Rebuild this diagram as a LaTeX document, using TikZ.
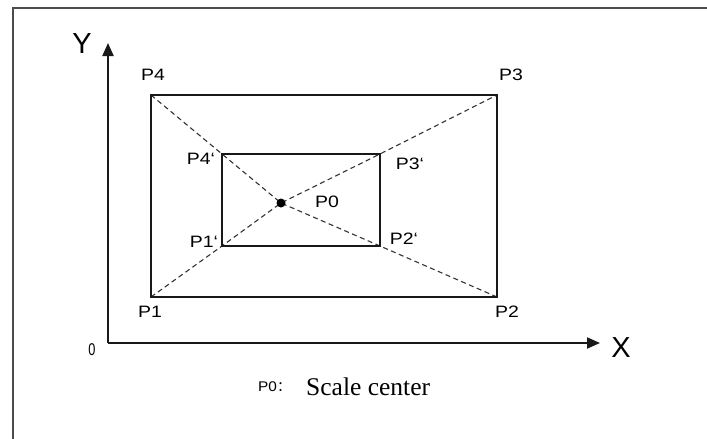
\documentclass[tikz,border=0pt]{standalone}
\usepackage{fontspec}
\setmainfont{Liberation Sans}
\newfontfamily\serifcap{Liberation Serif}
\newfontfamily\cjk{Noto Sans CJK SC}
\usetikzlibrary{arrows.meta}
\newcommand{\gr}{\symbol{96}}
\newcommand{\wide}[1]{\scalebox{1.18}[1]{#1}}
\begin{document}
\begin{tikzpicture}[x=1pt,y=-1pt,
  box/.style={line width=2pt,black!90},
  diag/.style={dash pattern=on 5pt off 3.5pt,line width=1.1pt,black!80},
  axis/.style={line width=2pt,black!90,-{Triangle[length=13pt,width=11pt]}},
  plab/.style={inner sep=0pt,font=\fontsize{16.5}{18}\selectfont},
  axlab/.style={inner sep=0pt,font=\fontsize{29}{31}\selectfont}]
\useasboundingbox (0,0) rectangle (707,439);
% frame
\draw[line width=1.4pt,black!70] (13,439) -- (13,8) -- (707,8);
% points
\coordinate (O) at (108,343);
\coordinate (Ytip) at (108,43);
\coordinate (Xtip) at (600,343);
\coordinate (P1) at (151,297);
\coordinate (P2) at (497,297);
\coordinate (P3) at (497,95);
\coordinate (P4) at (151,95);
\coordinate (Q1) at (222,246);
\coordinate (Q2) at (380,246);
\coordinate (Q3) at (380,154);
\coordinate (Q4) at (222,154);
\coordinate (P0) at (281,203);
% diagonals
\draw[diag] (P1) -- (Q1) -- (P0) -- (Q3) -- (P3);
\draw[diag] (P4) -- (Q4) -- (P0) -- (Q2) -- (P2);
% rectangles
\draw[box] (P1) -- (P2) -- (P3) -- (P4) -- cycle;
\draw[box] (Q1) -- (Q2) -- (Q3) -- (Q4) -- cycle;
\fill (P0) circle (4.5pt);
% axes
\draw[axis] (O) -- (Ytip);
\draw[axis] (O) -- (Xtip);
% labels
\node[axlab] (ylab) at (82,44) {Y};
\node[axlab] (xlab) at (621,348) {X};
\node[plab,font=\fontsize{17}{18}\selectfont] (olab) at (92,350) {\scalebox{0.75}[1]{0}};
\node[plab] (l4) at (153,75) {\wide{P4}};
\node[plab] (l3) at (511,75) {\wide{P3}};
\node[plab] (l1) at (150,312) {\wide{P1}};
\node[plab] (l2) at (507,312) {\wide{P2}};
\node[plab] (l4p) at (201,159) {\wide{P4\gr}};
\node[plab] (l3p) at (410,164) {\wide{P3\gr}};
\node[plab] (l0) at (327,202) {\wide{P0}};
\node[plab] (l1p) at (204,242) {\wide{P1\gr}};
\node[plab] (l2p) at (404,239) {\wide{P2\gr}};
\node[inner sep=0pt,anchor=base west,font=\fontsize{14}{16}\selectfont] (cap0) at (258,391) {\scalebox{1.1}[1]{P0}\cjk ：};
\node[inner sep=0pt,anchor=base west,font=\serifcap\fontsize{25.5}{27}\selectfont] (cap) at (306,395) {Scale center};
\end{tikzpicture}
\end{document}
